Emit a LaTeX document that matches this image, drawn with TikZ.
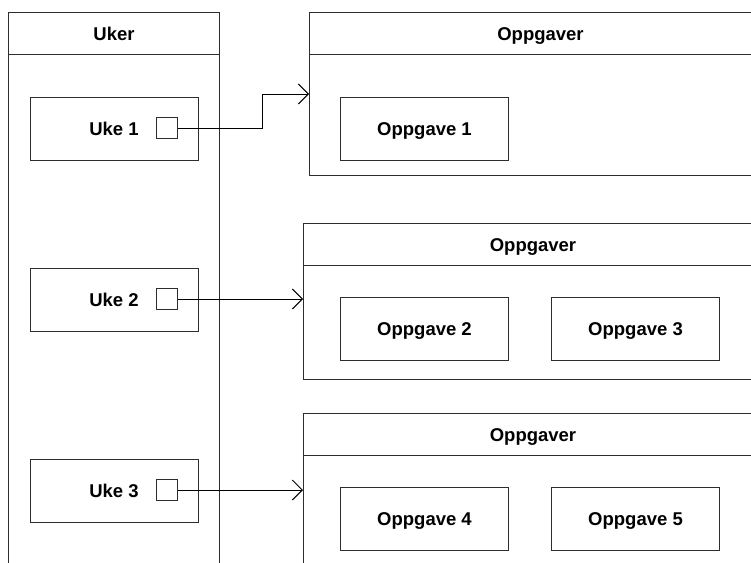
\documentclass[tikz,border=0pt]{standalone}
\usepackage{fontspec}
\setmainfont{Liberation Sans}
\usetikzlibrary{arrows.meta,positioning}
\usepackage{xcolor}
\definecolor{linecol}{RGB}{45,45,45}
\newcommand{\labfont}{\fontsize{18.5}{22}\selectfont\bfseries}
\tikzset{
  % lane header with title
  lanehead/.style={rectangle, draw=linecol, line width=1pt, minimum width=#1, minimum height=42pt,
                   inner sep=0pt, font=\labfont, text height=13.5pt, text depth=0pt},
  % lane body (open towards the page edge)
  lanebody/.style={rectangle, draw=linecol, line width=1pt, inner sep=0pt, minimum width=#1},
  % item box
  itembox/.style={rectangle, draw=linecol, line width=1pt, minimum width=168pt, minimum height=63pt,
                  inner sep=0pt, font=\labfont, text height=13.5pt, text depth=0pt},
  % small port square
  portbox/.style={rectangle, draw=linecol, line width=1pt, minimum width=21pt, minimum height=21pt, inner sep=0pt},
  % link arrow
  link/.style={-{Straight Barb[length=10pt,width=20pt]}, line width=1pt, black},
}

\begin{document}
\begin{tikzpicture}[x=1pt, y=-1pt]
  \clip (0,0) rectangle (751,562);

  % ── Uker ──
  \node[lanehead=211pt, anchor=north west] (uker) at (8,12) {Uker};
  \node[lanebody=211pt, minimum height=530pt, anchor=north west] (ukerbody) at (8,54) {};

  \node[itembox] (uke1) at (114,128.5) {Uke 1};
  \node[portbox] (p1) at (166.5,128) {};
  \node[itembox] (uke2) at (114,299.5) {Uke 2};
  \node[portbox] (p2) at (166.5,299) {};
  \node[itembox] (uke3) at (114,490.5) {Uke 3};
  \node[portbox] (p3) at (166.5,490) {};

  % ── Oppgaver, week 1 ──
  \node[lanehead=462pt, anchor=north west] (opp1) at (309,12) {Oppgaver};
  \node[lanebody=462pt, minimum height=121pt, anchor=north west] (opp1body) at (309,54) {};
  \node[itembox] (task1) at (424.5,128.5) {Oppgave 1};

  % ── Oppgaver, week 2 ──
  \node[lanehead=459pt, anchor=north west] (opp2) at (303,223) {Oppgaver};
  \node[lanebody=459pt, minimum height=114pt, anchor=north west] (opp2body) at (303,265) {};
  \node[itembox] (task2) at (424.5,328.5) {Oppgave 2};
  \node[itembox] (task3) at (635.5,328.5) {Oppgave 3};

  % ── Oppgaver, week 3 ──
  \node[lanehead=459pt, anchor=north west] (opp3) at (303,413) {Oppgaver};
  \node[lanebody=459pt, minimum height=130pt, anchor=north west] (opp3body) at (303,455) {};
  \node[itembox] (task4) at (424.5,518.5) {Oppgave 4};
  \node[itembox] (task5) at (635.5,518.5) {Oppgave 5};

  % links
  \coordinate (in1) at (309,94);
  \coordinate (in2) at (303,299);
  \coordinate (in3) at (303,490);
  \draw[link] (p1.east) -- ++(85,0) |- (in1);
  \draw[link] (p2.east) -- (in2);
  \draw[link] (p3.east) -- (in3);

\end{tikzpicture}
\end{document}
